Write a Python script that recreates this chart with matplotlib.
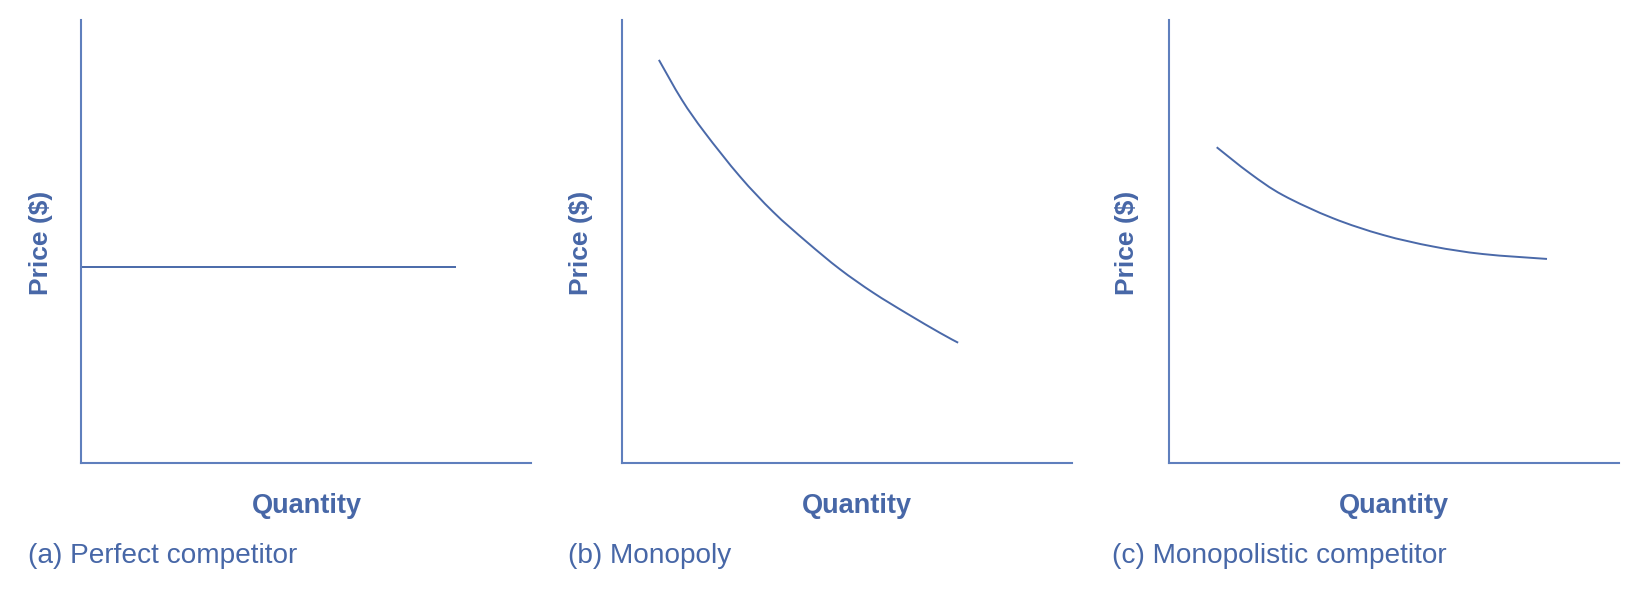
import matplotlib
matplotlib.use("Agg")
import matplotlib.pyplot as plt
from matplotlib.path import Path
from matplotlib.patches import PathPatch
import numpy as np

plt.rcParams['font.family'] = ['Liberation Sans', 'DejaVu Sans']

# Demand curves (quantity, price) in arbitrary 0-10 units
perfect_q = [0.0, 8.33]
perfect_p = [4.43, 4.43]

monopoly_q = [0.82, 1.33, 1.84, 2.62, 3.36, 4.11, 4.84, 5.58, 6.33, 7.07, 7.47]
monopoly_p = [9.10, 8.20, 7.46, 6.47, 5.67, 4.99, 4.38, 3.85, 3.38, 2.94, 2.72]

monocomp_q = [1.06, 1.80, 2.53, 3.64, 4.76, 5.87, 6.98, 8.40]
monocomp_p = [7.13, 6.54, 6.05, 5.53, 5.15, 4.89, 4.72, 4.61]

captions = ["(a) Perfect competitor", "(b) Monopoly", "(c) Monopolistic competitor"]
x_label = "Quantity"
y_label = "Price ($)"

text_color = "#4767a7"
axis_color = "#5f7fbd"
curve_color = "#4a69a9"


def smooth_path(xs, ys):
    """Cubic Bezier path through the given points (Catmull-Rom tangents)."""
    pts = np.column_stack([xs, ys]).astype(float)
    n = len(pts)
    if n < 3:
        return Path(pts, [Path.MOVETO] + [Path.LINETO] * (n - 1))
    verts = [pts[0]]
    codes = [Path.MOVETO]
    for i in range(n - 1):
        p0 = pts[i - 1] if i > 0 else pts[i]
        p1 = pts[i]
        p2 = pts[i + 1]
        p3 = pts[i + 2] if i + 2 < n else pts[i + 1]
        c1 = p1 + (p2 - p0) / 6.0
        c2 = p2 - (p3 - p1) / 6.0
        verts += [c1, c2, p2]
        codes += [Path.CURVE4] * 3
    return Path(verts, codes)


W, H = 1648, 602
fig = plt.figure(figsize=(W / 100, H / 100), dpi=100)
fig.patch.set_facecolor("white")

axis_left_px = [81.3, 622.0, 1169.0]
axis_width_px = 450.0
axis_top_px = 20.0
axis_bottom_px = 463.3

series = [(perfect_q, perfect_p), (monopoly_q, monopoly_p), (monocomp_q, monocomp_p)]
price_offsets = [-40, -41, -42]
qty_offsets = [226, 235, 225]
cap_offsets = [-53, -54.5, -57]

for i, (q, p) in enumerate(series):
    lx = axis_left_px[i]
    ax = fig.add_axes([lx / W, (H - axis_bottom_px) / H,
                       axis_width_px / W, (axis_bottom_px - axis_top_px) / H])
    ax.set_xlim(0, 10)
    ax.set_ylim(0, 10)
    ax.add_patch(PathPatch(smooth_path(q, p), facecolor="none",
                           edgecolor=curve_color, lw=1.4, capstyle='butt'))
    for side in ("top", "right"):
        ax.spines[side].set_visible(False)
    for side in ("left", "bottom"):
        ax.spines[side].set_color(axis_color)
        ax.spines[side].set_linewidth(1.5)
    ax.set_xticks([])
    ax.set_yticks([])

    # y label (rotated), x label, caption
    fig.text((lx + price_offsets[i]) / W, 1 - 243 / H, y_label, rotation=90,
             ha="center", va="center", fontsize=19, fontweight="bold",
             color=text_color)
    fig.text((lx + qty_offsets[i]) / W, 1 - 513.3 / H, x_label,
             ha="center", va="baseline", fontsize=19.5, fontweight="bold",
             color=text_color)
    fig.text((lx + cap_offsets[i]) / W, 1 - 562.7 / H, captions[i],
             ha="left", va="baseline", fontsize=20.2, color=text_color)

fig.savefig("out.png", dpi=100, facecolor="white")
